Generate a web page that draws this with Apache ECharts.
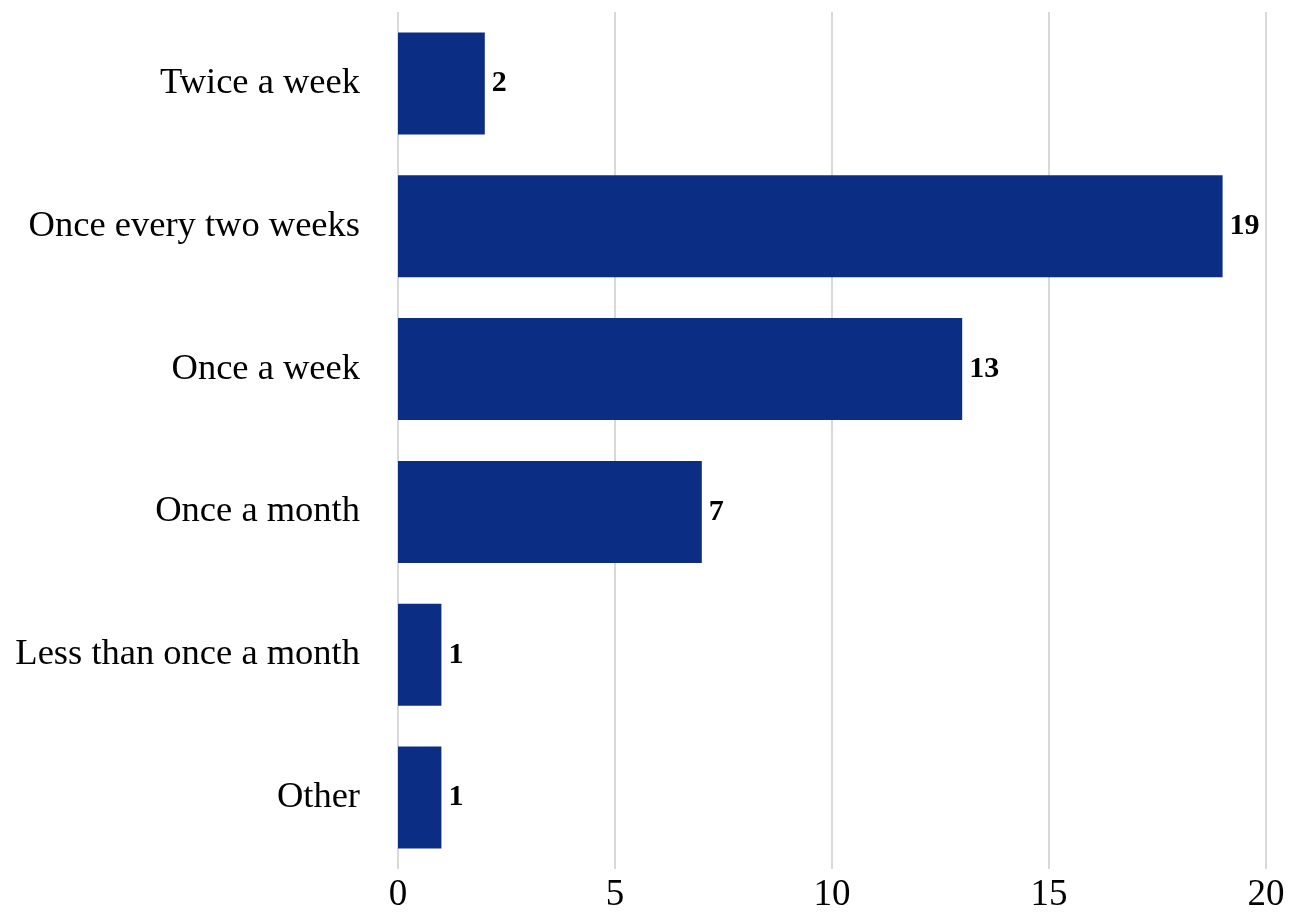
<!DOCTYPE html>
<html>
<head>
<meta charset="utf-8">
<script src="https://cdn.jsdelivr.net/npm/echarts@6/dist/echarts.min.js"></script>
<style>html,body{margin:0;padding:0;background:#fff}#c{width:1299px;height:915px}</style>
</head>
<body>
<div id="c"></div>
<script>
const categories = ["Twice a week", "Once every two weeks", "Once a week", "Once a month", "Less than once a month", "Other"];
const values = [2, 19, 13, 7, 1, 1];
const xTicks = [0, 5, 10, 15, 20];

const chart = echarts.init(document.getElementById('c'));
chart.setOption({
  animation: false,
  backgroundColor: '#fff',
  textStyle: { fontFamily: 'Liberation Serif' },
  grid: { left: 398, right: 33, top: 12, bottom: 46, containLabel: false },
  xAxis: {
    type: 'value', min: xTicks[0], max: xTicks[xTicks.length - 1], interval: 5,
    axisLine: { show: false }, axisTick: { show: false },
    splitLine: { show: true, lineStyle: { color: '#d9d9d9', width: 2 } },
    axisLabel: { fontSize: 37, color: '#000', margin: 8, fontFamily: 'Liberation Serif' }
  },
  yAxis: {
    type: 'category', data: categories, inverse: true,
    axisLine: { show: false }, axisTick: { show: false },
    axisLabel: { fontSize: 36.5, color: '#000', margin: 38, fontFamily: 'Liberation Serif' }
  },
  series: [{
    type: 'bar', data: values, barCategoryGap: '28.6%',
    itemStyle: { color: '#0b2e84' },
    label: { show: true, position: 'right', distance: 7, fontSize: 30, fontWeight: 'bold', color: '#000', fontFamily: 'Liberation Serif' }
  }]
});
</script>
</body>
</html>
